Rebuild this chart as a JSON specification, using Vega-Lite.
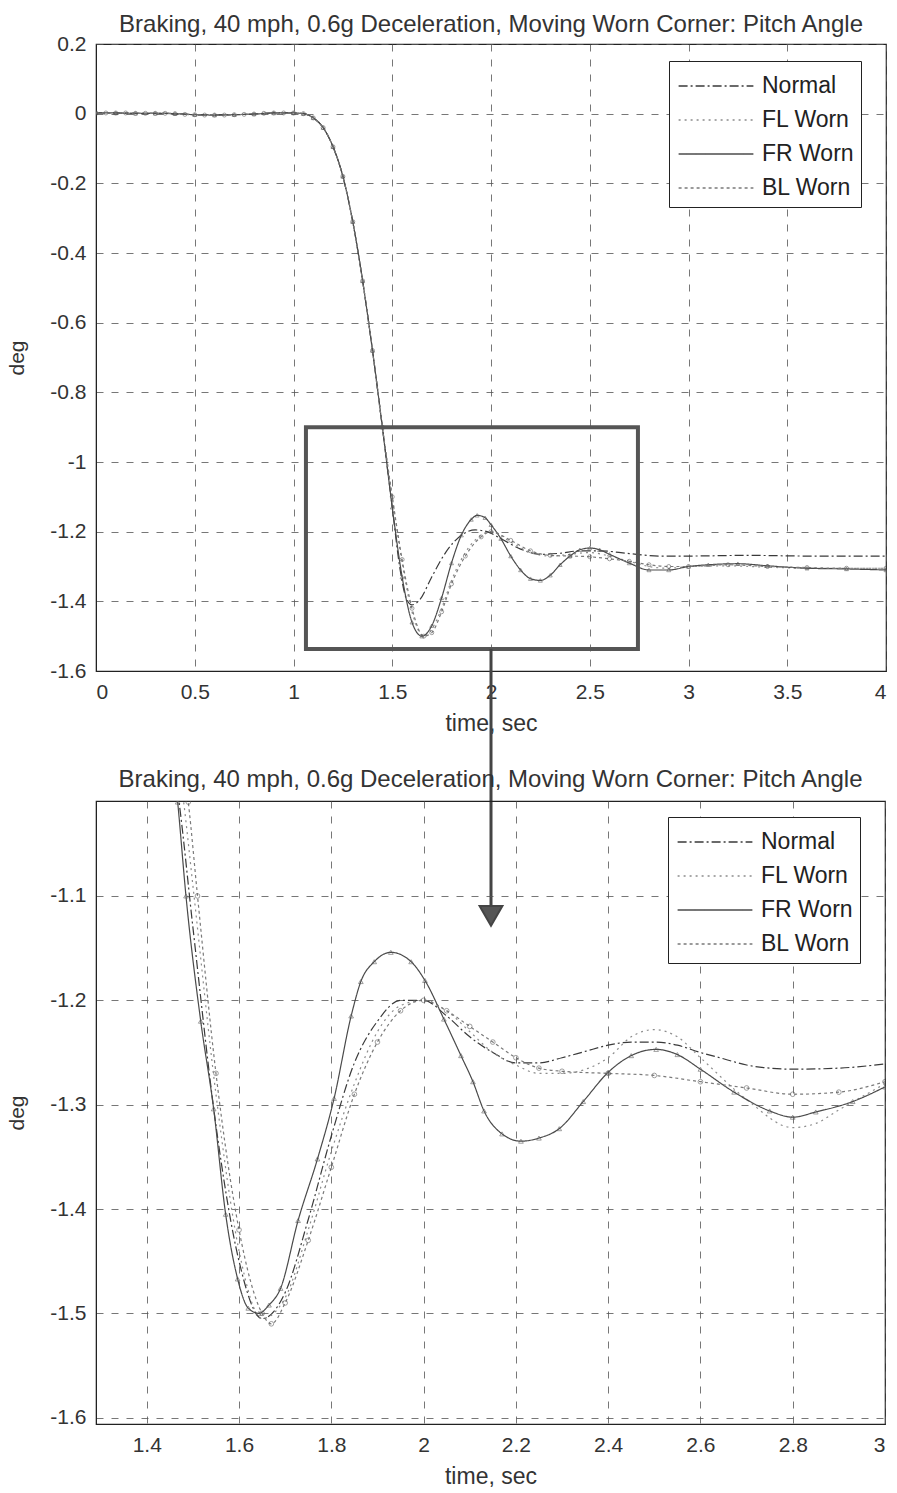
{
"$schema": "https://vega.github.io/schema/vega-lite/v6.json",
"background": "white",
"padding": {"left": 6, "top": 11, "right": 5, "bottom": 5},
"bounds": "flush",
"spacing": 130,
"config": {
  "view": {"stroke": "#222", "strokeWidth": 1.2},
  "axis": {"labelFont": "Liberation Sans", "labelFontSize": 21, "labelColor": "#333", "titleFont": "Liberation Sans", "titleFontSize": 23, "titleFontWeight": "normal", "titleColor": "#333", "ticks": false, "domainColor": "#222", "gridColor": "#555", "gridDash": [7, 8], "gridWidth": 1, "gridOpacity": 0.8, "labelPadding": 10},
  "axisY": {"titleFontSize": 21},
  "title": {"font": "Liberation Sans", "fontSize": 24, "fontWeight": "normal", "color": "#333", "frame": "group"},
  "legend": {"title": null, "orient": "none", "symbolType": "M-2.2,0H2.2", "symbolSize": 1156, "symbolStrokeWidth": 1.3, "symbolOffset": 22, "labelOffset": 28, "labelFontSize": 23, "labelFont": "Liberation Sans", "labelColor": "#222", "rowPadding": 4, "padding": 7, "strokeColor": "#222", "fillColor": "white"}
},
"datasets": {
  "top": [
    {"s":"Normal","t":0,"v":0.002},{"s":"Normal","t":0.1,"v":0.002},{"s":"Normal","t":0.2,"v":0.001},{"s":"Normal","t":0.3,"v":0.001},{"s":"Normal","t":0.4,"v":0},{"s":"Normal","t":0.5,"v":-0.003},{"s":"Normal","t":0.6,"v":-0.004},{"s":"Normal","t":0.7,"v":-0.003},{"s":"Normal","t":0.8,"v":-0.001},{"s":"Normal","t":0.9,"v":0.002},{"s":"Normal","t":1.0,"v":0.002},{"s":"Normal","t":1.05,"v":0},{"s":"Normal","t":1.1,"v":-0.012},{"s":"Normal","t":1.15,"v":-0.04},{"s":"Normal","t":1.2,"v":-0.095},{"s":"Normal","t":1.25,"v":-0.18},{"s":"Normal","t":1.3,"v":-0.31},{"s":"Normal","t":1.35,"v":-0.48},{"s":"Normal","t":1.4,"v":-0.68},{"s":"Normal","t":1.45,"v":-0.9},
    {"s":"Normal","t":1.5,"v":-1.13},{"s":"Normal","t":1.54,"v":-1.31},{"s":"Normal","t":1.57,"v":-1.39},{"s":"Normal","t":1.6,"v":-1.41},{"s":"Normal","t":1.64,"v":-1.395},{"s":"Normal","t":1.7,"v":-1.33},{"s":"Normal","t":1.77,"v":-1.26},{"s":"Normal","t":1.85,"v":-1.21},{"s":"Normal","t":1.92,"v":-1.195},{"s":"Normal","t":1.98,"v":-1.2},{"s":"Normal","t":2.05,"v":-1.22},{"s":"Normal","t":2.15,"v":-1.25},{"s":"Normal","t":2.25,"v":-1.265},{"s":"Normal","t":2.35,"v":-1.262},{"s":"Normal","t":2.45,"v":-1.255},{"s":"Normal","t":2.55,"v":-1.255},{"s":"Normal","t":2.7,"v":-1.263},{"s":"Normal","t":2.85,"v":-1.27},{"s":"Normal","t":3.0,"v":-1.27},{"s":"Normal","t":3.3,"v":-1.268},{"s":"Normal","t":3.6,"v":-1.27},{"s":"Normal","t":4.0,"v":-1.27},

    {"s":"FL Worn","t":0,"v":0.002},{"s":"FL Worn","t":0.1,"v":0.002},{"s":"FL Worn","t":0.2,"v":0.001},{"s":"FL Worn","t":0.3,"v":0.001},{"s":"FL Worn","t":0.4,"v":0},{"s":"FL Worn","t":0.5,"v":-0.003},{"s":"FL Worn","t":0.6,"v":-0.004},{"s":"FL Worn","t":0.7,"v":-0.003},{"s":"FL Worn","t":0.8,"v":-0.001},{"s":"FL Worn","t":0.9,"v":0.002},{"s":"FL Worn","t":1.0,"v":0.002},{"s":"FL Worn","t":1.05,"v":0},{"s":"FL Worn","t":1.1,"v":-0.012},{"s":"FL Worn","t":1.15,"v":-0.04},{"s":"FL Worn","t":1.2,"v":-0.095},{"s":"FL Worn","t":1.25,"v":-0.18},{"s":"FL Worn","t":1.3,"v":-0.31},{"s":"FL Worn","t":1.35,"v":-0.48},{"s":"FL Worn","t":1.4,"v":-0.68},{"s":"FL Worn","t":1.45,"v":-0.9},
    {"s":"FL Worn","t":1.5,"v":-1.1},{"s":"FL Worn","t":1.55,"v":-1.29},{"s":"FL Worn","t":1.6,"v":-1.43},{"s":"FL Worn","t":1.66,"v":-1.5},{"s":"FL Worn","t":1.7,"v":-1.48},{"s":"FL Worn","t":1.75,"v":-1.42},{"s":"FL Worn","t":1.8,"v":-1.34},{"s":"FL Worn","t":1.87,"v":-1.26},{"s":"FL Worn","t":1.95,"v":-1.21},{"s":"FL Worn","t":2.0,"v":-1.2},{"s":"FL Worn","t":2.1,"v":-1.23},{"s":"FL Worn","t":2.2,"v":-1.26},{"s":"FL Worn","t":2.3,"v":-1.27},{"s":"FL Worn","t":2.4,"v":-1.265},{"s":"FL Worn","t":2.5,"v":-1.26},{"s":"FL Worn","t":2.6,"v":-1.27},{"s":"FL Worn","t":2.7,"v":-1.285},{"s":"FL Worn","t":2.8,"v":-1.3},{"s":"FL Worn","t":2.9,"v":-1.305},{"s":"FL Worn","t":3.0,"v":-1.3},{"s":"FL Worn","t":3.2,"v":-1.298},{"s":"FL Worn","t":3.4,"v":-1.302},{"s":"FL Worn","t":3.6,"v":-1.305},{"s":"FL Worn","t":3.8,"v":-1.305},{"s":"FL Worn","t":4.0,"v":-1.305},

    {"s":"FR Worn","t":0,"v":0.002},{"s":"FR Worn","t":0.1,"v":0.002},{"s":"FR Worn","t":0.2,"v":0.001},{"s":"FR Worn","t":0.3,"v":0.001},{"s":"FR Worn","t":0.4,"v":0},{"s":"FR Worn","t":0.5,"v":-0.003},{"s":"FR Worn","t":0.6,"v":-0.004},{"s":"FR Worn","t":0.7,"v":-0.003},{"s":"FR Worn","t":0.8,"v":-0.001},{"s":"FR Worn","t":0.9,"v":0.002},{"s":"FR Worn","t":1.0,"v":0.002},{"s":"FR Worn","t":1.05,"v":0},{"s":"FR Worn","t":1.1,"v":-0.012},{"s":"FR Worn","t":1.15,"v":-0.04},{"s":"FR Worn","t":1.2,"v":-0.095},{"s":"FR Worn","t":1.25,"v":-0.18},{"s":"FR Worn","t":1.3,"v":-0.31},{"s":"FR Worn","t":1.35,"v":-0.48},{"s":"FR Worn","t":1.4,"v":-0.68},{"s":"FR Worn","t":1.45,"v":-0.9},
    {"s":"FR Worn","t":1.5,"v":-1.13},{"s":"FR Worn","t":1.55,"v":-1.33},{"s":"FR Worn","t":1.6,"v":-1.46},{"s":"FR Worn","t":1.65,"v":-1.5},{"s":"FR Worn","t":1.7,"v":-1.47},{"s":"FR Worn","t":1.75,"v":-1.39},{"s":"FR Worn","t":1.8,"v":-1.29},{"s":"FR Worn","t":1.85,"v":-1.21},{"s":"FR Worn","t":1.9,"v":-1.165},{"s":"FR Worn","t":1.93,"v":-1.153},{"s":"FR Worn","t":1.97,"v":-1.16},{"s":"FR Worn","t":2.0,"v":-1.18},{"s":"FR Worn","t":2.05,"v":-1.22},{"s":"FR Worn","t":2.1,"v":-1.27},{"s":"FR Worn","t":2.15,"v":-1.31},{"s":"FR Worn","t":2.2,"v":-1.335},{"s":"FR Worn","t":2.25,"v":-1.34},{"s":"FR Worn","t":2.3,"v":-1.325},{"s":"FR Worn","t":2.35,"v":-1.295},{"s":"FR Worn","t":2.4,"v":-1.27},{"s":"FR Worn","t":2.45,"v":-1.252},{"s":"FR Worn","t":2.5,"v":-1.247},{"s":"FR Worn","t":2.55,"v":-1.252},{"s":"FR Worn","t":2.6,"v":-1.265},{"s":"FR Worn","t":2.7,"v":-1.29},{"s":"FR Worn","t":2.8,"v":-1.31},{"s":"FR Worn","t":2.9,"v":-1.31},{"s":"FR Worn","t":3.0,"v":-1.3},{"s":"FR Worn","t":3.1,"v":-1.295},{"s":"FR Worn","t":3.25,"v":-1.292},{"s":"FR Worn","t":3.4,"v":-1.298},{"s":"FR Worn","t":3.6,"v":-1.305},{"s":"FR Worn","t":3.8,"v":-1.307},{"s":"FR Worn","t":4.0,"v":-1.31},

    {"s":"BL Worn","t":0,"v":0.002},{"s":"BL Worn","t":0.05,"v":0.002},{"s":"BL Worn","t":0.1,"v":0.002},{"s":"BL Worn","t":0.15,"v":0.002},{"s":"BL Worn","t":0.2,"v":0.001},{"s":"BL Worn","t":0.25,"v":0.001},{"s":"BL Worn","t":0.3,"v":0.001},{"s":"BL Worn","t":0.35,"v":0.001},{"s":"BL Worn","t":0.4,"v":0},{"s":"BL Worn","t":0.45,"v":-0.002},{"s":"BL Worn","t":0.5,"v":-0.003},{"s":"BL Worn","t":0.55,"v":-0.004},{"s":"BL Worn","t":0.6,"v":-0.004},{"s":"BL Worn","t":0.65,"v":-0.004},{"s":"BL Worn","t":0.7,"v":-0.003},{"s":"BL Worn","t":0.75,"v":-0.002},{"s":"BL Worn","t":0.8,"v":-0.001},{"s":"BL Worn","t":0.85,"v":0.001},{"s":"BL Worn","t":0.9,"v":0.002},{"s":"BL Worn","t":0.95,"v":0.002},{"s":"BL Worn","t":1.0,"v":0.002},{"s":"BL Worn","t":1.05,"v":0},{"s":"BL Worn","t":1.1,"v":-0.012},{"s":"BL Worn","t":1.15,"v":-0.04},{"s":"BL Worn","t":1.2,"v":-0.095},{"s":"BL Worn","t":1.25,"v":-0.18},{"s":"BL Worn","t":1.3,"v":-0.31},{"s":"BL Worn","t":1.35,"v":-0.48},{"s":"BL Worn","t":1.4,"v":-0.68},{"s":"BL Worn","t":1.45,"v":-0.9},
    {"s":"BL Worn","t":1.5,"v":-1.1},{"s":"BL Worn","t":1.55,"v":-1.28},{"s":"BL Worn","t":1.6,"v":-1.42},{"s":"BL Worn","t":1.66,"v":-1.5},{"s":"BL Worn","t":1.7,"v":-1.49},{"s":"BL Worn","t":1.75,"v":-1.43},{"s":"BL Worn","t":1.8,"v":-1.35},{"s":"BL Worn","t":1.87,"v":-1.27},{"s":"BL Worn","t":1.95,"v":-1.215},{"s":"BL Worn","t":2.0,"v":-1.2},{"s":"BL Worn","t":2.1,"v":-1.225},{"s":"BL Worn","t":2.2,"v":-1.255},{"s":"BL Worn","t":2.3,"v":-1.268},{"s":"BL Worn","t":2.4,"v":-1.27},{"s":"BL Worn","t":2.5,"v":-1.272},{"s":"BL Worn","t":2.6,"v":-1.278},{"s":"BL Worn","t":2.7,"v":-1.285},{"s":"BL Worn","t":2.8,"v":-1.295},{"s":"BL Worn","t":2.9,"v":-1.3},{"s":"BL Worn","t":3.0,"v":-1.3},{"s":"BL Worn","t":3.2,"v":-1.295},{"s":"BL Worn","t":3.4,"v":-1.3},{"s":"BL Worn","t":3.6,"v":-1.303},{"s":"BL Worn","t":3.8,"v":-1.305},{"s":"BL Worn","t":4.0,"v":-1.305}
  ],
  "bot": [
    {"s":"Normal","t":1.3,"v":-0.5},{"s":"Normal","t":1.35,"v":-0.65},{"s":"Normal","t":1.4,"v":-0.8},{"s":"Normal","t":1.45,"v":-0.95},{"s":"Normal","t":1.47,"v":-1.01},{"s":"Normal","t":1.5,"v":-1.13},{"s":"Normal","t":1.55,"v":-1.32},{"s":"Normal","t":1.6,"v":-1.45},{"s":"Normal","t":1.65,"v":-1.505},{"s":"Normal","t":1.7,"v":-1.48},{"s":"Normal","t":1.75,"v":-1.41},{"s":"Normal","t":1.8,"v":-1.33},{"s":"Normal","t":1.85,"v":-1.26},{"s":"Normal","t":1.9,"v":-1.22},{"s":"Normal","t":1.95,"v":-1.2},{"s":"Normal","t":2.0,"v":-1.2},{"s":"Normal","t":2.05,"v":-1.215},{"s":"Normal","t":2.1,"v":-1.235},{"s":"Normal","t":2.15,"v":-1.25},{"s":"Normal","t":2.2,"v":-1.26},{"s":"Normal","t":2.25,"v":-1.26},{"s":"Normal","t":2.3,"v":-1.255},{"s":"Normal","t":2.35,"v":-1.249},{"s":"Normal","t":2.4,"v":-1.243},{"s":"Normal","t":2.45,"v":-1.24},{"s":"Normal","t":2.5,"v":-1.24},{"s":"Normal","t":2.55,"v":-1.243},{"s":"Normal","t":2.6,"v":-1.25},{"s":"Normal","t":2.65,"v":-1.256},{"s":"Normal","t":2.7,"v":-1.262},{"s":"Normal","t":2.75,"v":-1.265},{"s":"Normal","t":2.8,"v":-1.266},{"s":"Normal","t":2.9,"v":-1.265},{"s":"Normal","t":3.0,"v":-1.261},

    {"s":"FL Worn","t":1.3,"v":-0.47},{"s":"FL Worn","t":1.35,"v":-0.61},{"s":"FL Worn","t":1.4,"v":-0.77},{"s":"FL Worn","t":1.45,"v":-0.92},{"s":"FL Worn","t":1.48,"v":-1.01},{"s":"FL Worn","t":1.5,"v":-1.09},{"s":"FL Worn","t":1.55,"v":-1.29},{"s":"FL Worn","t":1.6,"v":-1.44},{"s":"FL Worn","t":1.65,"v":-1.505},{"s":"FL Worn","t":1.7,"v":-1.485},{"s":"FL Worn","t":1.75,"v":-1.42},{"s":"FL Worn","t":1.8,"v":-1.345},{"s":"FL Worn","t":1.85,"v":-1.28},{"s":"FL Worn","t":1.9,"v":-1.23},{"s":"FL Worn","t":1.95,"v":-1.205},{"s":"FL Worn","t":2.0,"v":-1.2},{"s":"FL Worn","t":2.05,"v":-1.21},{"s":"FL Worn","t":2.1,"v":-1.23},{"s":"FL Worn","t":2.15,"v":-1.25},{"s":"FL Worn","t":2.2,"v":-1.262},{"s":"FL Worn","t":2.25,"v":-1.27},{"s":"FL Worn","t":2.3,"v":-1.27},{"s":"FL Worn","t":2.4,"v":-1.255},{"s":"FL Worn","t":2.45,"v":-1.235},{"s":"FL Worn","t":2.5,"v":-1.228},{"s":"FL Worn","t":2.55,"v":-1.235},{"s":"FL Worn","t":2.6,"v":-1.255},{"s":"FL Worn","t":2.7,"v":-1.295},{"s":"FL Worn","t":2.8,"v":-1.322},{"s":"FL Worn","t":2.85,"v":-1.318},{"s":"FL Worn","t":2.9,"v":-1.305},{"s":"FL Worn","t":3.0,"v":-1.28},

    {"s":"FR Worn","t":1.3,"v":-0.48},{"s":"FR Worn","t":1.35,"v":-0.63},{"s":"FR Worn","t":1.4,"v":-0.79},{"s":"FR Worn","t":1.45,"v":-0.94},{"s":"FR Worn","t":1.467,"v":-1.01},{"s":"FR Worn","t":1.485,"v":-1.1},{"s":"FR Worn","t":1.517,"v":-1.22},{"s":"FR Worn","t":1.545,"v":-1.304},{"s":"FR Worn","t":1.571,"v":-1.405},{"s":"FR Worn","t":1.597,"v":-1.467},{"s":"FR Worn","t":1.62,"v":-1.495},{"s":"FR Worn","t":1.643,"v":-1.5},{"s":"FR Worn","t":1.665,"v":-1.492},{"s":"FR Worn","t":1.69,"v":-1.476},{"s":"FR Worn","t":1.728,"v":-1.411},{"s":"FR Worn","t":1.77,"v":-1.352},{"s":"FR Worn","t":1.806,"v":-1.294},{"s":"FR Worn","t":1.843,"v":-1.215},{"s":"FR Worn","t":1.864,"v":-1.182},{"s":"FR Worn","t":1.893,"v":-1.163},{"s":"FR Worn","t":1.929,"v":-1.154},{"s":"FR Worn","t":1.973,"v":-1.163},{"s":"FR Worn","t":2.003,"v":-1.181},{"s":"FR Worn","t":2.044,"v":-1.218},{"s":"FR Worn","t":2.081,"v":-1.253},{"s":"FR Worn","t":2.107,"v":-1.278},{"s":"FR Worn","t":2.131,"v":-1.306},{"s":"FR Worn","t":2.17,"v":-1.328},{"s":"FR Worn","t":2.211,"v":-1.335},{"s":"FR Worn","t":2.25,"v":-1.332},{"s":"FR Worn","t":2.294,"v":-1.323},{"s":"FR Worn","t":2.346,"v":-1.297},{"s":"FR Worn","t":2.4,"v":-1.269},{"s":"FR Worn","t":2.45,"v":-1.253},{"s":"FR Worn","t":2.504,"v":-1.247},{"s":"FR Worn","t":2.55,"v":-1.252},{"s":"FR Worn","t":2.6,"v":-1.266},{"s":"FR Worn","t":2.673,"v":-1.288},{"s":"FR Worn","t":2.75,"v":-1.306},{"s":"FR Worn","t":2.8,"v":-1.312},{"s":"FR Worn","t":2.85,"v":-1.307},{"s":"FR Worn","t":2.93,"v":-1.297},{"s":"FR Worn","t":3.0,"v":-1.283},

    {"s":"BL Worn","t":1.3,"v":-0.46},{"s":"BL Worn","t":1.35,"v":-0.6},{"s":"BL Worn","t":1.4,"v":-0.76},{"s":"BL Worn","t":1.45,"v":-0.91},{"s":"BL Worn","t":1.49,"v":-1.01},{"s":"BL Worn","t":1.51,"v":-1.1},{"s":"BL Worn","t":1.55,"v":-1.27},{"s":"BL Worn","t":1.6,"v":-1.42},{"s":"BL Worn","t":1.65,"v":-1.5},{"s":"BL Worn","t":1.67,"v":-1.51},{"s":"BL Worn","t":1.7,"v":-1.49},{"s":"BL Worn","t":1.75,"v":-1.43},{"s":"BL Worn","t":1.8,"v":-1.36},{"s":"BL Worn","t":1.85,"v":-1.29},{"s":"BL Worn","t":1.9,"v":-1.24},{"s":"BL Worn","t":1.95,"v":-1.21},{"s":"BL Worn","t":2.0,"v":-1.2},{"s":"BL Worn","t":2.05,"v":-1.21},{"s":"BL Worn","t":2.1,"v":-1.225},{"s":"BL Worn","t":2.15,"v":-1.24},{"s":"BL Worn","t":2.2,"v":-1.255},{"s":"BL Worn","t":2.25,"v":-1.265},{"s":"BL Worn","t":2.3,"v":-1.268},{"s":"BL Worn","t":2.4,"v":-1.27},{"s":"BL Worn","t":2.5,"v":-1.272},{"s":"BL Worn","t":2.6,"v":-1.278},{"s":"BL Worn","t":2.7,"v":-1.284},{"s":"BL Worn","t":2.8,"v":-1.29},{"s":"BL Worn","t":2.9,"v":-1.288},{"s":"BL Worn","t":3.0,"v":-1.278}
  ],
  "box": [{"t0": 1.063, "t1": 2.744, "v0": -0.9, "v1": -1.537}],
  "arrow": [{"t": 2.0, "v0": -1.537, "v1": -2.275, "vh": -2.303}]
},
"resolve": {"scale": {"strokeDash": "independent", "color": "independent", "shape": "independent"}, "legend": {"strokeDash": "independent", "color": "independent", "shape": "independent"}},
"vconcat": [
  {
    "width": 790, "height": 627,
    "title": {"text": "Braking, 40 mph, 0.6g Deceleration, Moving Worn Corner: Pitch Angle", "offset": -3.5},
    "layer": [
      {
        "data": {"name": "top"},
        "mark": {"type": "line", "clip": true, "strokeWidth": 1.2, "interpolate": "monotone"},
        "encoding": {
          "x": {"field": "t", "type": "quantitative", "scale": {"domain": [0, 4], "nice": false, "zero": false}, "axis": {"title": "time, sec", "values": [0, 0.5, 1, 1.5, 2, 2.5, 3, 3.5, 4], "labelExpr": "'' + datum.value", "titlePadding": 10}},
          "y": {"field": "v", "type": "quantitative", "scale": {"domain": [-1.6, 0.2], "nice": false, "zero": false}, "axis": {"title": "deg", "values": [-1.6, -1.4, -1.2, -1, -0.8, -0.6, -0.4, -0.2, 0, 0.2], "labelExpr": "'' + datum.value", "titlePadding": 22}},
          "color": {"field": "s", "type": "nominal", "scale": {"domain": ["Normal", "FL Worn", "FR Worn", "BL Worn"], "range": ["#3a3a3a", "#8c8c8c", "#4a4a4a", "#7a7a7a"]}, "legend": {"legendX": 573, "legendY": 17}},
          "strokeDash": {"field": "s", "type": "nominal", "scale": {"domain": ["Normal", "FL Worn", "FR Worn", "BL Worn"], "range": [[9, 3, 2, 3], [2, 4], [1, 0], [3, 3]]}, "legend": {"legendX": 573, "legendY": 17}}
        }
      },
      {
        "data": {"name": "top"},
        "transform": [{"filter": "datum.s == 'FR Worn' || datum.s == 'BL Worn'"}],
        "mark": {"type": "point", "clip": true, "size": 16, "strokeWidth": 0.8, "filled": false, "color": "#555"},
        "encoding": {
          "x": {"field": "t", "type": "quantitative"},
          "y": {"field": "v", "type": "quantitative"},
          "shape": {"field": "s", "type": "nominal", "scale": {"domain": ["FR Worn", "BL Worn"], "range": ["triangle-up", "circle"]}, "legend": null}
        }
      },
      {
        "data": {"name": "box"},
        "mark": {"type": "rect", "fill": null, "stroke": "#555", "strokeWidth": 4, "clip": false},
        "encoding": {
          "x": {"field": "t0", "type": "quantitative"}, "x2": {"field": "t1"},
          "y": {"field": "v0", "type": "quantitative"}, "y2": {"field": "v1"}
        }
      },
      {
        "data": {"name": "arrow"},
        "mark": {"type": "rule", "stroke": "#444", "strokeWidth": 3, "clip": false},
        "encoding": {
          "x": {"field": "t", "type": "quantitative"},
          "y": {"field": "v0", "type": "quantitative"}, "y2": {"field": "v1"}
        }
      },
      {
        "data": {"name": "arrow"},
        "mark": {"type": "point", "shape": "triangle-down", "size": 520, "filled": true, "fill": "#555", "stroke": "#444", "opacity": 1, "clip": false},
        "encoding": {
          "x": {"field": "t", "type": "quantitative"},
          "y": {"field": "vh", "type": "quantitative"}
        }
      }
    ]
  },
  {
    "width": 789, "height": 623,
    "title": {"text": "Braking, 40 mph, 0.6g Deceleration, Moving Worn Corner: Pitch Angle", "offset": 9.5},
    "layer": [
      {
        "data": {"name": "bot"},
        "mark": {"type": "line", "clip": true, "strokeWidth": 1.2, "interpolate": "monotone"},
        "encoding": {
          "x": {"field": "t", "type": "quantitative", "scale": {"domain": [1.29, 3.0], "nice": false, "zero": false}, "axis": {"title": "time, sec", "values": [1.4, 1.6, 1.8, 2, 2.2, 2.4, 2.6, 2.8, 3], "labelExpr": "'' + datum.value", "titlePadding": 10}},
          "y": {"field": "v", "type": "quantitative", "scale": {"domain": [-1.606, -1.009], "nice": false, "zero": false}, "axis": {"title": "deg", "values": [-1.6, -1.5, -1.4, -1.3, -1.2, -1.1], "labelExpr": "'' + datum.value", "titlePadding": 22}},
          "color": {"field": "s", "type": "nominal", "scale": {"domain": ["Normal", "FL Worn", "FR Worn", "BL Worn"], "range": ["#3a3a3a", "#8c8c8c", "#4a4a4a", "#7a7a7a"]}, "legend": {"legendX": 572, "legendY": 16}},
          "strokeDash": {"field": "s", "type": "nominal", "scale": {"domain": ["Normal", "FL Worn", "FR Worn", "BL Worn"], "range": [[9, 3, 2, 3], [2, 4], [1, 0], [3, 3]]}, "legend": {"legendX": 572, "legendY": 16}}
        }
      },
      {
        "data": {"name": "bot"},
        "transform": [{"filter": "datum.s == 'FR Worn' || datum.s == 'BL Worn'"}],
        "mark": {"type": "point", "clip": true, "size": 22, "strokeWidth": 0.8, "filled": false, "color": "#555"},
        "encoding": {
          "x": {"field": "t", "type": "quantitative"},
          "y": {"field": "v", "type": "quantitative"},
          "shape": {"field": "s", "type": "nominal", "scale": {"domain": ["FR Worn", "BL Worn"], "range": ["triangle-up", "circle"]}, "legend": null}
        }
      }
    ]
  }
]
}
